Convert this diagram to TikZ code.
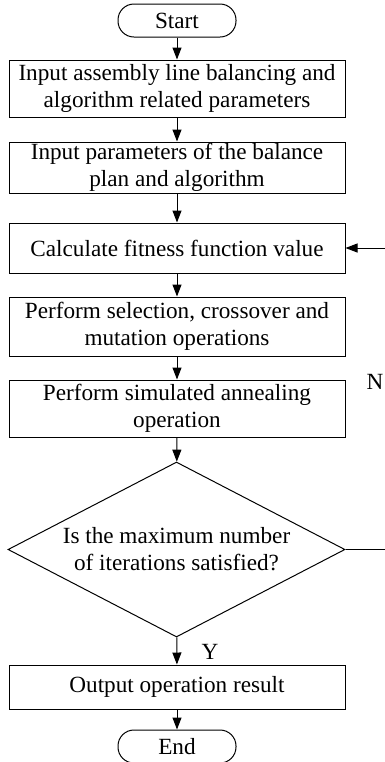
\documentclass[tikz,border=0pt]{standalone}
\usepackage{fontspec}
\setmainfont{Liberation Serif}
\usetikzlibrary{shapes.geometric,arrows.meta}
\begin{document}
\begin{tikzpicture}[x=0.5pt,y=-0.5pt,line width=0.5pt,
    every node/.style={font=\fontsize{11.6}{13.5}\selectfont},
    box/.style={draw,rectangle,align=center,minimum width=168pt,inner sep=0pt},
    term/.style={draw,rectangle,rounded corners=8pt,minimum width=59pt,minimum height=16.5pt,inner sep=0pt},
    cond/.style={draw,diamond,aspect=2,align=center,minimum width=168.5pt,minimum height=87.5pt,inner sep=0pt},
    arr/.style={-{Triangle[length=6pt,width=4.5pt]}}]
    \clip (0,0) rectangle (385,762);

    \node[term] (start) at (177,20.5) {Start};
    \node[box,minimum height=28.5pt] (in1) at (177,88.5) {Input assembly line balancing and\\algorithm related parameters};
    \node[box,minimum height=25.5pt] (in2) at (177,167.5) {Input parameters of the balance\\plan and algorithm};
    \node[box,minimum height=25pt] (calc) at (177,248) {Calculate fitness function value};
    \node[box,minimum height=29.5pt] (ops) at (177,326.5) {Perform selection, crossover and\\mutation operations};
    \node[box,minimum height=28.5pt] (sa) at (177,408.5) {Perform simulated annealing\\operation};
    \node[cond] (dec) at (176.5,549.5) {Is the maximum number\\of iterations satisfied?};
    \node[box,minimum height=22pt] (out) at (177,687) {Output operation result};
    \node[term] (end) at (177,746.5) {End};

    \coordinate (r1) at (400,549.5);
    \coordinate (r2) at (400,248);

    \draw[arr] (start) -- (in1);
    \draw[arr] (in1) -- (in2);
    \draw[arr] (in2) -- (calc);
    \draw[arr] (calc) -- (ops);
    \draw[arr] (ops) -- (sa);
    \draw[arr] (sa) -- (dec);
    \draw[arr] (dec) -- (out);
    \draw[arr] (out) -- (end);
    \draw[arr] (dec.east) -- (r1) -- (r2) -- (calc.east);

    \node (ylab) at (210,652) {Y};
    \node (nlab) at (375,382) {N};
\end{tikzpicture}
\end{document}
